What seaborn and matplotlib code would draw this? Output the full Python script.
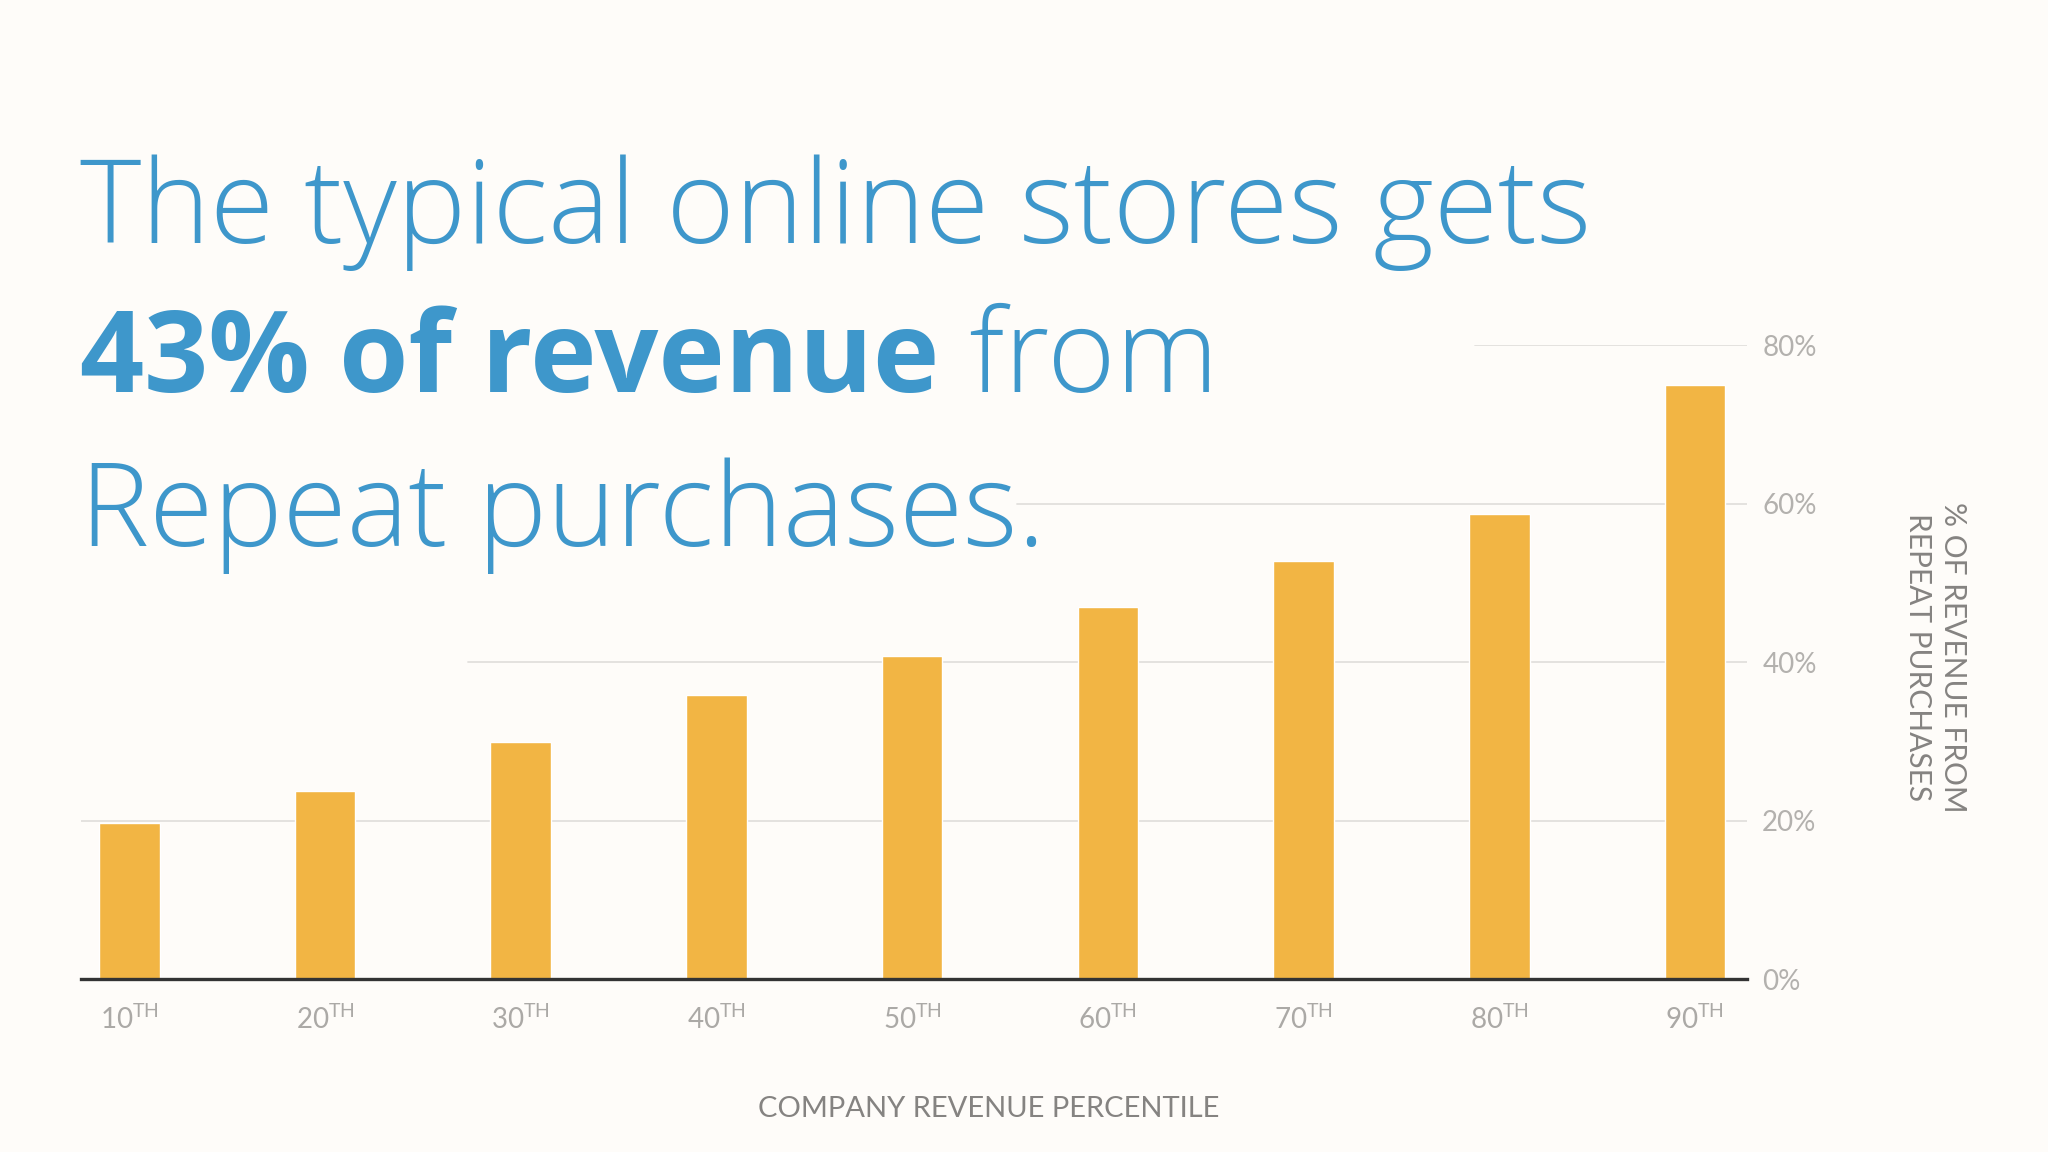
import matplotlib
matplotlib.use("Agg")
import matplotlib.pyplot as plt
import seaborn as sns
import pandas as pd

# ---- data ----
percentiles = ["10", "20", "30", "40", "50", "60", "70", "80", "90"]
repeat_share = [19.7, 23.7, 29.9, 35.9, 40.8, 46.9, 52.8, 58.7, 75.0]
y_ticks = [0, 20, 40, 60, 80]
y_tick_labels = ["0%", "20%", "40%", "60%", "80%"]
title_line1 = "The typical online stores gets"
title_bold = "43% of revenue"
title_rest = " from"
title_line3 = "Repeat purchases."
x_label = "COMPANY REVENUE PERCENTILE"
y_label = "% OF REVENUE FROM\nREPEAT PURCHASES"

# ---- style ----
BG = "#FEFCF9"
BLUE = "#3E97CB"
BAR = "#F2B544"
sns.set_theme(style="white")
plt.rcParams["font.family"] = ["Lato", "DejaVu Sans"]
plt.rcParams["mathtext.fontset"] = "custom"
plt.rcParams["mathtext.rm"] = "Lato"
TFONT = ["Open Sans", "Lato", "DejaVu Sans"]

df = pd.DataFrame({"pct": percentiles, "share": repeat_share})
tick_text = [p + r"$^{\mathregular{TH}}$" for p in percentiles]

fig = plt.figure(figsize=(20.48, 11.52), dpi=100, facecolor=BG)
ax = fig.add_axes([0.0396, 0.150, 0.8134, 0.5505])
ax.set_facecolor(BG)

# partial grid lines (start fraction along axis for each tick)
grid_start = {20: 0.0, 40: 0.232, 60: 0.562, 80: 0.837}
for yv, x0 in grid_start.items():
    ax.axhline(yv, xmin=x0, xmax=1, color="#E2E0DD", lw=1.3, zorder=0)

sns.barplot(data=df, x="pct", y="share", color=BAR, saturation=1,
            width=0.31, ax=ax, zorder=2)

ax.set_xlim(-0.247, 8.266)
ax.set_ylim(0, 80)
ax.set_yticks(y_ticks)
ax.set_yticklabels(y_tick_labels)
ax.set_xticks(range(len(percentiles)))
ax.set_xticklabels(tick_text)
ax.yaxis.tick_right()
ax.tick_params(axis="y", length=0, pad=11, labelsize=20, labelcolor="#B3B1AE")
ax.tick_params(axis="x", length=0, pad=18, labelsize=20, labelcolor="#ABA9A6")
ax.set_xlabel("")
ax.set_ylabel("")
for s in ["top", "left", "right"]:
    ax.spines[s].set_visible(False)
ax.spines["bottom"].set_color("#333333")
ax.spines["bottom"].set_linewidth(2.4)
ax.spines["bottom"].set_zorder(3)

# axis labels
fig.text(757 / 1568, 1 - 855 / 882, x_label, ha="center", va="baseline",
         fontsize=21, color="#858381")
fig.text(1482 / 1568, 1 - 503 / 882, y_label, rotation=270, ha="center",
         va="center", multialignment="center", fontsize=21.5, color="#858381",
         linespacing=1.3)

# title
TS = 84
TSB = 81
fig.text(80 / 2048, 1 - 243 / 1152, title_line1, fontsize=TS, color=BLUE,
         family=TFONT, fontweight="light", va="baseline", ha="left")
tb = fig.text(80 / 2048, 1 - 392 / 1152, title_bold, fontsize=TSB, color=BLUE,
              family=TFONT, fontweight="bold", va="baseline", ha="left")
fig.canvas.draw()
r = fig.canvas.get_renderer()
bb = tb.get_window_extent(r)
fig.text(bb.x1 / fig.bbox.width, 1 - 392 / 1152, title_rest, fontsize=TS,
         color=BLUE, family=TFONT, fontweight="light", va="baseline", ha="left")
fig.text(80 / 2048, 1 - 546 / 1152, title_line3, fontsize=TS, color=BLUE,
         family=TFONT, fontweight="light", va="baseline", ha="left")

fig.savefig("out.png", dpi=100, facecolor=BG)
